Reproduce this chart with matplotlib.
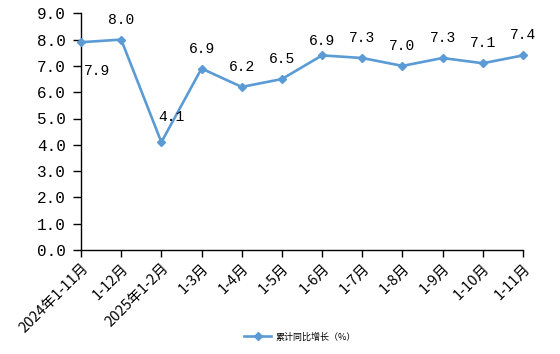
import matplotlib
matplotlib.use('Agg')
import matplotlib.pyplot as plt

plt.rcParams['font.family'] = ['Noto Sans CJK SC', 'DejaVu Sans']

# data
categories = ['2024年1-11月', '1-12月', '2025年1-2月', '1-3月', '1-4月', '1-5月',
              '1-6月', '1-7月', '1-8月', '1-9月', '1-10月', '1-11月']
values = [7.9, 8.0, 4.1, 6.9, 6.2, 6.5, 7.4, 7.3, 7.0, 7.3, 7.1, 7.4]
point_labels = ['7.9', '8.0', '4.1', '6.9', '6.2', '6.5', '6.9', '7.3', '7.0', '7.3', '7.1', '7.4']
series_name = '累计同比增长（%）'

LINE = '#5B9BD5'

fig = plt.figure(figsize=(5.6, 3.54), dpi=100)
ax = fig.add_axes([81/560, 1 - 250/354, (523-81)/560, (250-13.3)/354])

x = list(range(len(categories)))
ax.plot(x, values, color=LINE, lw=1.9, marker='D', ms=4.5, mfc=LINE, mec=LINE,
        label=series_name, clip_on=False, zorder=3)

# label offsets in pixels (dx, dy up)
offsets = {0: (16, -29), 2: (10, 25), 6: (0, 14)}
for i, (v, t) in enumerate(zip(values, point_labels)):
    dx, dy = offsets.get(i, (0, 20))
    ax.annotate(t, (i, v), xytext=(dx*0.72, dy*0.72), textcoords='offset points',
                ha='center', va='center', fontsize=10.5, family='Liberation Mono')

ax.set_xlim(0, len(categories) - 1)
ax.set_ylim(0, 9)
ax.set_yticks([i for i in range(10)])
ax.set_yticklabels(['%.1f' % i for i in range(10)], family='Liberation Mono', fontsize=11.5)
ax.set_xticks(x)
ax.set_xticklabels(categories, rotation=45, ha='right', va='top',
                   rotation_mode='anchor', fontsize=10.5)
ax.tick_params(axis='y', direction='out', length=6, width=1, pad=5)
ax.tick_params(axis='x', direction='out', length=5, width=1, pad=3)

for s in ['top', 'right']:
    ax.spines[s].set_visible(False)
for s in ['left', 'bottom']:
    ax.spines[s].set_color('black')
    ax.spines[s].set_linewidth(1)

fig.legend(loc='center', bbox_to_anchor=(300/560, 1 - 337/354), frameon=False,
           fontsize=6.5, handlelength=3, handletextpad=0.5)

fig.savefig('out.png', dpi=100)
